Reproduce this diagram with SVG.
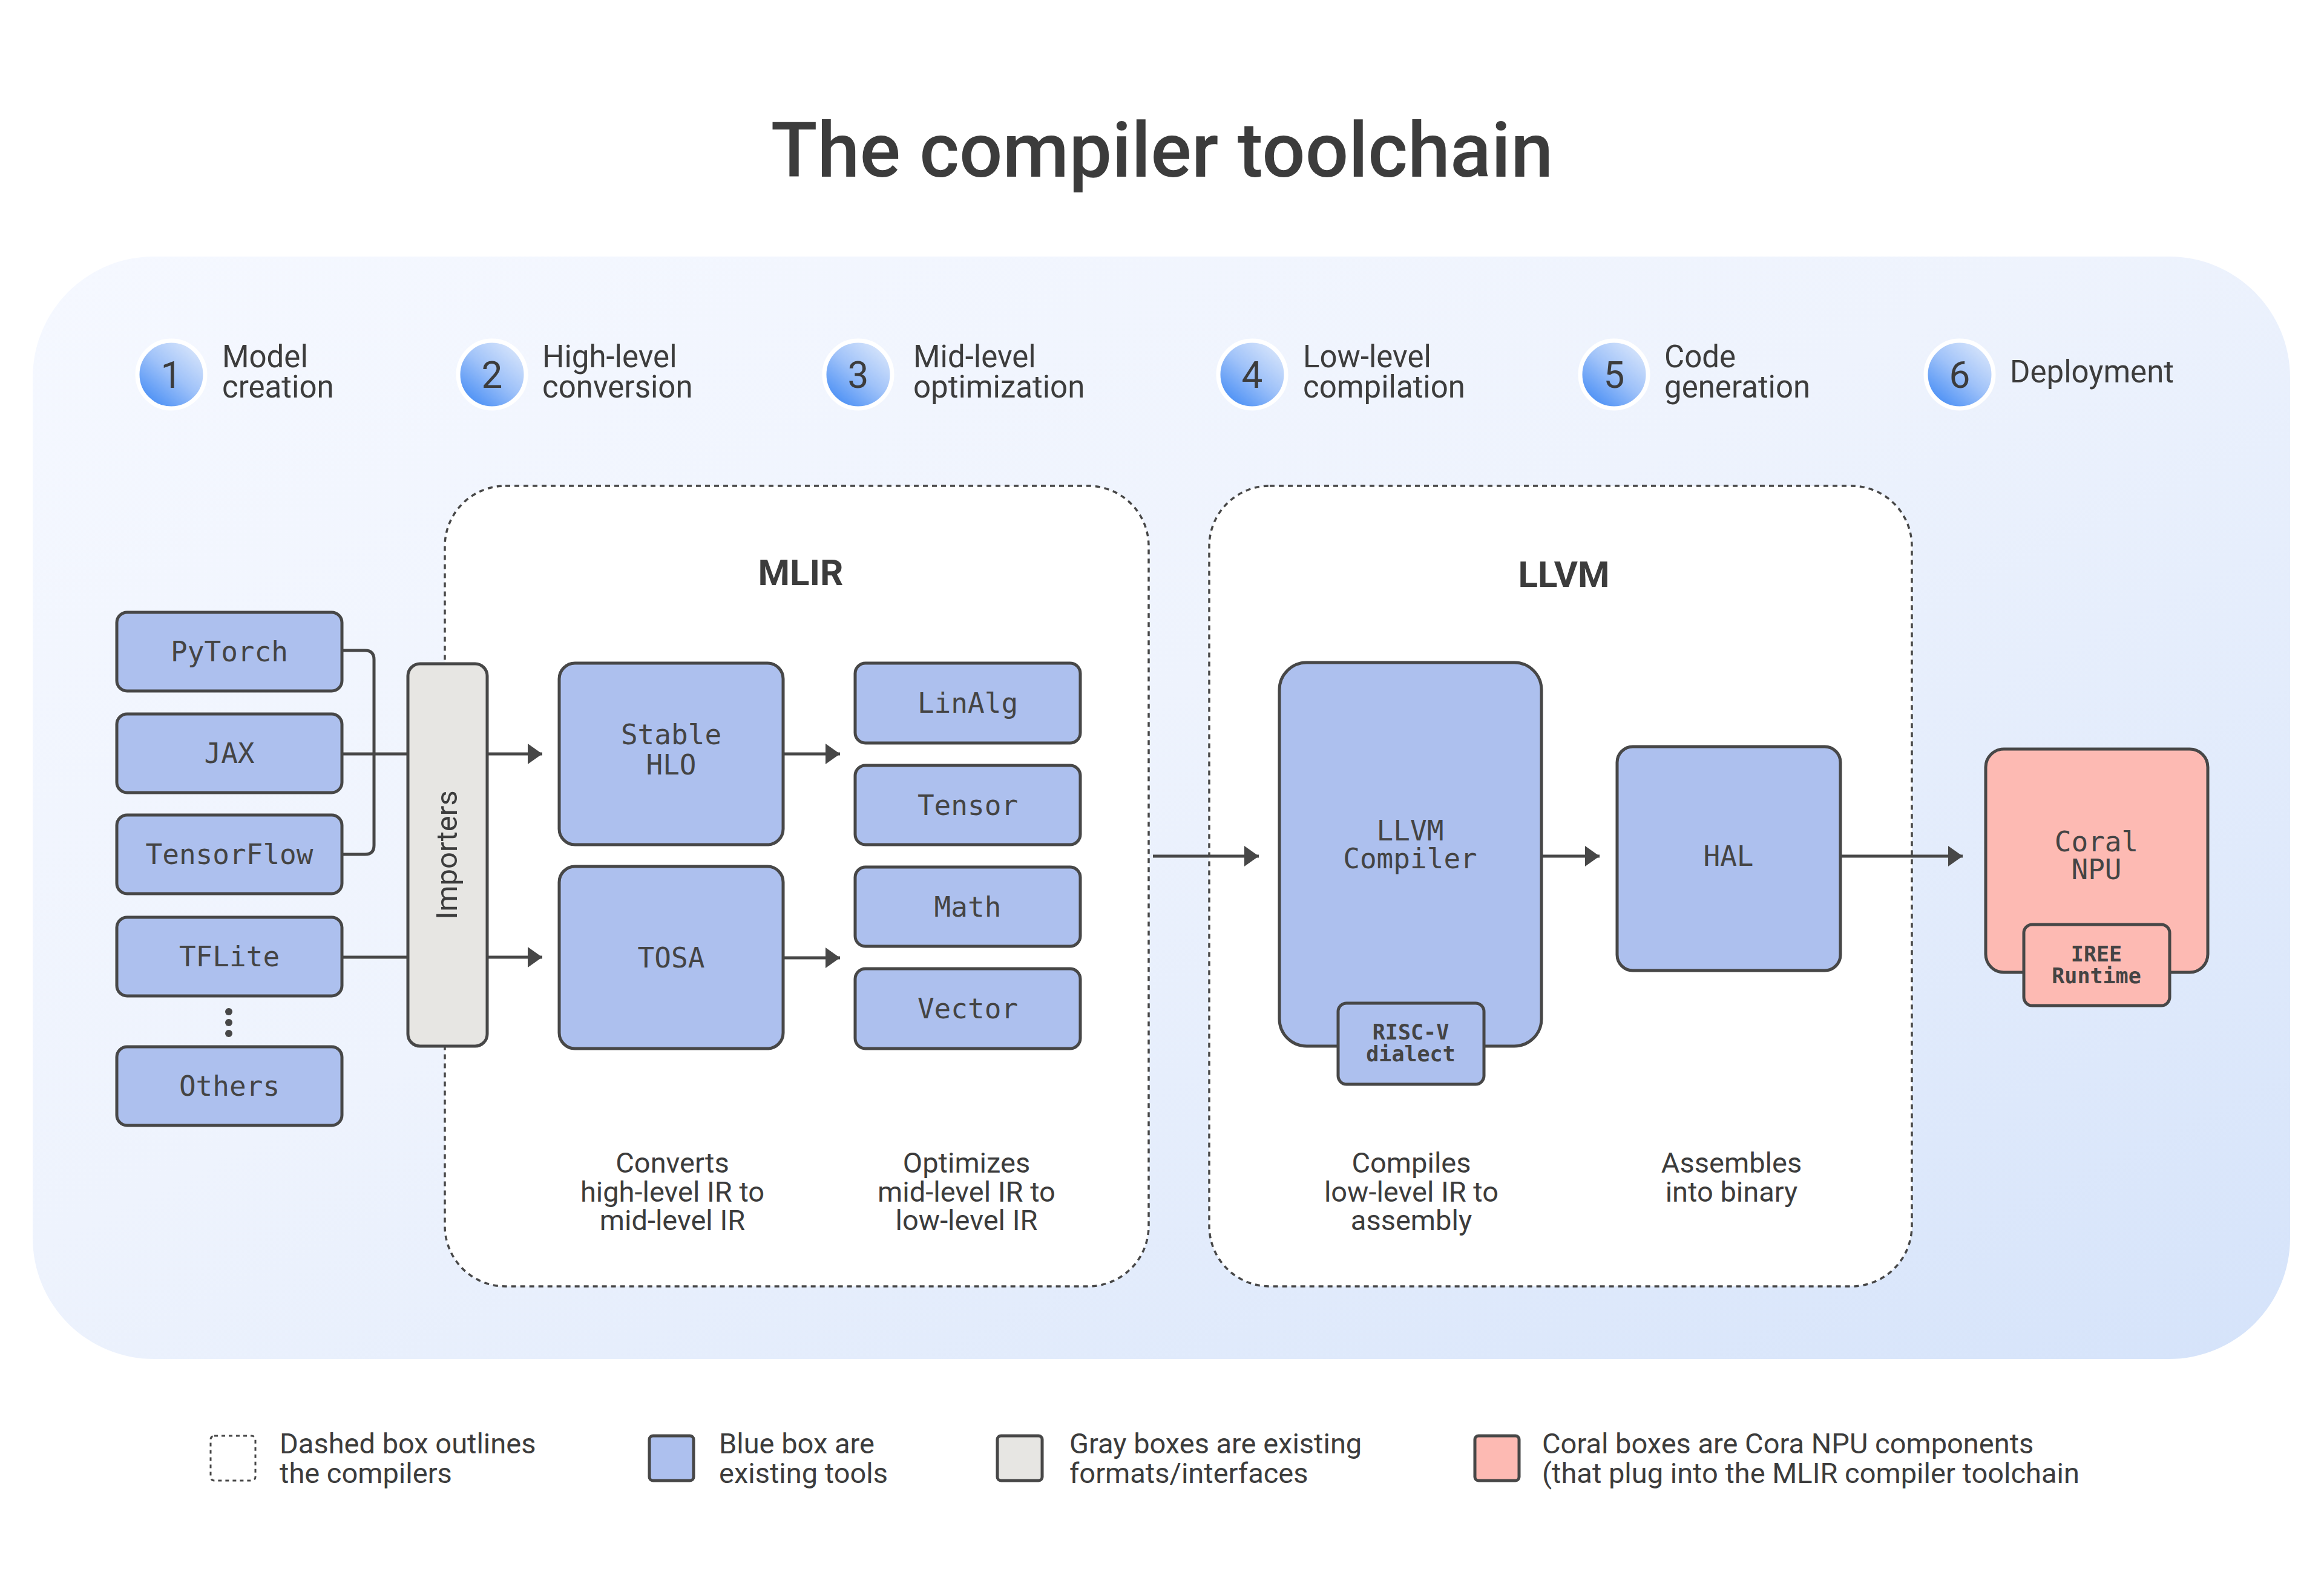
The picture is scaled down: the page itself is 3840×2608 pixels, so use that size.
<svg xmlns="http://www.w3.org/2000/svg" width="3840" height="2608" viewBox="0 0 3840 2608">
<defs>
<linearGradient id="bg" x1="0" y1="0" x2="1" y2="1">
<stop offset="0" stop-color="#f5f8ff"/>
<stop offset="0.45" stop-color="#eef3fd"/>
<stop offset="1" stop-color="#d5e3fa"/>
</linearGradient>
<linearGradient id="ball" x1="0.85" y1="0.1" x2="0.2" y2="0.9">
<stop offset="0" stop-color="#d6e4fb"/>
<stop offset="0.5" stop-color="#9fc2f9"/>
<stop offset="1" stop-color="#4f92f5"/>
</linearGradient>
<marker id="ah" markerUnits="userSpaceOnUse" markerWidth="26" markerHeight="38" refX="24" refY="19" orient="auto">
<path d="M0,2 L24,19 L0,36 z" fill="#474747"/>
</marker>
<style>
.sans{font-family:Roboto,"Liberation Sans",sans-serif;fill:#3c3c3c}
.mono{font-family:"DejaVu Sans Mono","Liberation Mono",monospace;fill:#444;font-size:46px}
.monob{font-family:"DejaVu Sans Mono","Liberation Mono",monospace;fill:#444;font-size:35px;font-weight:bold}
.blue{fill:#adc0ee;stroke:#474747;stroke-width:5}
.gray{fill:#e7e6e3;stroke:#474747;stroke-width:5}
.coral{fill:#fdbab3;stroke:#474747;stroke-width:5}
.dash{fill:#fff;stroke:#474747;stroke-width:3.5;stroke-dasharray:8 7}
.step{font-size:51px}
.desc{font-size:47px}
.leg{font-size:47px}
.ln{fill:none;stroke:#474747;stroke-width:5}
</style>
</defs>
<rect width="3840" height="2608" fill="#ffffff"/>
<text class="sans" x="1920" y="292" text-anchor="middle" font-size="126" font-weight="500">The compiler toolchain</text>
<rect x="54" y="424" width="3730" height="1822" rx="200" fill="url(#bg)"/>

<g id="steps">
<g id="step1"><circle cx="283" cy="619" r="56" fill="url(#ball)" stroke="#fff" stroke-width="7"/><text class="sans" x="283" y="641" text-anchor="middle" font-size="62">1</text><text class="sans step"><tspan x="367" y="607">Model</tspan><tspan x="367" y="657">creation</tspan></text></g>
<g id="step2"><circle cx="813" cy="619" r="56" fill="url(#ball)" stroke="#fff" stroke-width="7"/><text class="sans" x="813" y="641" text-anchor="middle" font-size="62">2</text><text class="sans step"><tspan x="896" y="607">High-level</tspan><tspan x="896" y="657">conversion</tspan></text></g>
<g id="step3"><circle cx="1418" cy="619" r="56" fill="url(#ball)" stroke="#fff" stroke-width="7"/><text class="sans" x="1418" y="641" text-anchor="middle" font-size="62">3</text><text class="sans step"><tspan x="1509" y="607">Mid-level</tspan><tspan x="1509" y="657">optimization</tspan></text></g>
<g id="step4"><circle cx="2069" cy="619" r="56" fill="url(#ball)" stroke="#fff" stroke-width="7"/><text class="sans" x="2069" y="641" text-anchor="middle" font-size="62">4</text><text class="sans step"><tspan x="2153" y="607">Low-level</tspan><tspan x="2153" y="657">compilation</tspan></text></g>
<g id="step5"><circle cx="2667" cy="619" r="56" fill="url(#ball)" stroke="#fff" stroke-width="7"/><text class="sans" x="2667" y="641" text-anchor="middle" font-size="62">5</text><text class="sans step"><tspan x="2750" y="607">Code</tspan><tspan x="2750" y="657">generation</tspan></text></g>
<g id="step6"><circle cx="3238" cy="619" r="56" fill="url(#ball)" stroke="#fff" stroke-width="7"/><text class="sans" x="3238" y="641" text-anchor="middle" font-size="62">6</text><text class="sans step" x="3321" y="632">Deployment</text></g>
</g>

<g id="mlir">
<rect class="dash" x="735" y="803" width="1163" height="1323" rx="100"/>
<text class="sans" x="1323" y="967" text-anchor="middle" font-size="60" font-weight="bold">MLIR</text>
<text class="sans desc" text-anchor="middle"><tspan x="1111" y="1938">Converts</tspan><tspan x="1111" y="1986">high-level IR to</tspan><tspan x="1111" y="2033">mid-level IR</tspan></text>
<text class="sans desc" text-anchor="middle"><tspan x="1597" y="1938">Optimizes</tspan><tspan x="1597" y="1986">mid-level IR to</tspan><tspan x="1597" y="2033">low-level IR</tspan></text>
</g>
<g id="llvm">
<rect class="dash" x="1998" y="803" width="1161" height="1323" rx="100"/>
<text class="sans" x="2584" y="970" text-anchor="middle" font-size="60" font-weight="bold">LLVM</text>
<text class="sans desc" text-anchor="middle"><tspan x="2332" y="1938">Compiles</tspan><tspan x="2332" y="1986">low-level IR to</tspan><tspan x="2332" y="2033">assembly</tspan></text>
<text class="sans desc" text-anchor="middle"><tspan x="2861" y="1938">Assembles</tspan><tspan x="2861" y="1986">into binary</tspan></text>
</g>

<g id="connectors">
<path class="ln" d="M565,1075 H603 Q618,1075 618,1090 V1397 Q618,1412 603,1412 H565"/>
<path class="ln" d="M565,1246 H674"/>
<path class="ln" d="M565,1582 H674"/>
<path class="ln" d="M805,1246 H896" marker-end="url(#ah)"/>
<path class="ln" d="M805,1582 H896" marker-end="url(#ah)"/>
<path class="ln" d="M1294,1246 H1388" marker-end="url(#ah)"/>
<path class="ln" d="M1294,1583 H1388" marker-end="url(#ah)"/>
<path class="ln" d="M1905,1415 H2080" marker-end="url(#ah)"/>
<path class="ln" d="M2547,1415 H2643" marker-end="url(#ah)"/>
<path class="ln" d="M3041,1415 H3243" marker-end="url(#ah)"/>
<circle cx="378" cy="1672" r="6" fill="#474747"/>
<circle cx="378" cy="1690" r="6" fill="#474747"/>
<circle cx="378" cy="1708" r="6" fill="#474747"/>
</g>

<g id="pytorch"><rect class="blue" x="193" y="1012" width="372" height="130" rx="17"/><text class="mono" x="379" y="1093" text-anchor="middle">PyTorch</text></g>
<g id="jax"><rect class="blue" x="193" y="1180" width="372" height="130" rx="17"/><text class="mono" x="379" y="1261" text-anchor="middle">JAX</text></g>
<g id="tensorflow"><rect class="blue" x="193" y="1347" width="372" height="130" rx="17"/><text class="mono" x="379" y="1428" text-anchor="middle">TensorFlow</text></g>
<g id="tflite"><rect class="blue" x="193" y="1516" width="372" height="130" rx="17"/><text class="mono" x="379" y="1597" text-anchor="middle">TFLite</text></g>
<g id="others"><rect class="blue" x="193" y="1730" width="372" height="130" rx="17"/><text class="mono" x="379" y="1811" text-anchor="middle">Others</text></g>

<g id="importers"><rect class="gray" x="674" y="1097" width="131" height="632" rx="20"/><text class="sans" x="0" y="0" font-size="49" text-anchor="middle" transform="translate(755,1413) rotate(-90)">Importers</text></g>

<g id="stablehlo"><rect class="blue" x="924" y="1096" width="370" height="300" rx="26"/><text class="mono" text-anchor="middle"><tspan x="1109" y="1230">Stable</tspan><tspan x="1109" y="1280">HLO</tspan></text></g>
<g id="tosa"><rect class="blue" x="924" y="1432" width="370" height="301" rx="26"/><text class="mono" x="1109" y="1599" text-anchor="middle">TOSA</text></g>
<g id="linalg"><rect class="blue" x="1413" y="1096" width="372" height="132" rx="17"/><text class="mono" x="1599" y="1178" text-anchor="middle">LinAlg</text></g>
<g id="tensor"><rect class="blue" x="1413" y="1265" width="372" height="131" rx="17"/><text class="mono" x="1599" y="1347" text-anchor="middle">Tensor</text></g>
<g id="math"><rect class="blue" x="1413" y="1433" width="372" height="131" rx="17"/><text class="mono" x="1599" y="1515" text-anchor="middle">Math</text></g>
<g id="vector"><rect class="blue" x="1413" y="1601" width="372" height="132" rx="17"/><text class="mono" x="1599" y="1683" text-anchor="middle">Vector</text></g>

<g id="llvmcompiler"><rect class="blue" x="2114" y="1095" width="433" height="634" rx="45"/><text class="mono" text-anchor="middle"><tspan x="2330" y="1389">LLVM</tspan><tspan x="2330" y="1435">Compiler</tspan></text></g>
<g id="riscv"><rect class="blue" x="2211" y="1658" width="241" height="134" rx="14"/><text class="monob" text-anchor="middle"><tspan x="2331" y="1718">RISC-V</tspan><tspan x="2331" y="1754">dialect</tspan></text></g>
<g id="hal"><rect class="blue" x="2672" y="1234" width="369" height="370" rx="26"/><text class="mono" x="2856" y="1431" text-anchor="middle">HAL</text></g>
<g id="coralnpu"><rect class="coral" x="3281" y="1238" width="367" height="369" rx="30"/><text class="mono" text-anchor="middle"><tspan x="3464" y="1407">Coral</tspan><tspan x="3464" y="1453">NPU</tspan></text></g>
<g id="ireeruntime"><rect class="coral" x="3344" y="1528" width="241" height="134" rx="14"/><text class="monob" text-anchor="middle"><tspan x="3464" y="1589">IREE</tspan><tspan x="3464" y="1625">Runtime</tspan></text></g>

<g id="legend">
<rect x="348" y="2373" width="74" height="74" rx="6" fill="none" stroke="#474747" stroke-width="3" stroke-dasharray="6 6"/>
<text class="sans leg"><tspan x="462" y="2402">Dashed box outlines</tspan><tspan x="462" y="2451">the compilers</tspan></text>
<rect x="1073" y="2373" width="73" height="74" rx="6" class="blue"/>
<text class="sans leg"><tspan x="1188" y="2402">Blue box are</tspan><tspan x="1188" y="2451">existing tools</tspan></text>
<rect x="1648" y="2373" width="74" height="74" rx="6" class="gray"/>
<text class="sans leg"><tspan x="1767" y="2402">Gray boxes are existing</tspan><tspan x="1767" y="2451">formats/interfaces</tspan></text>
<rect x="2437" y="2373" width="73" height="74" rx="6" class="coral"/>
<text class="sans leg"><tspan x="2548" y="2402">Coral boxes are Cora NPU components</tspan><tspan x="2548" y="2451">(that plug into the MLIR compiler toolchain</tspan></text>
</g>
</svg>
